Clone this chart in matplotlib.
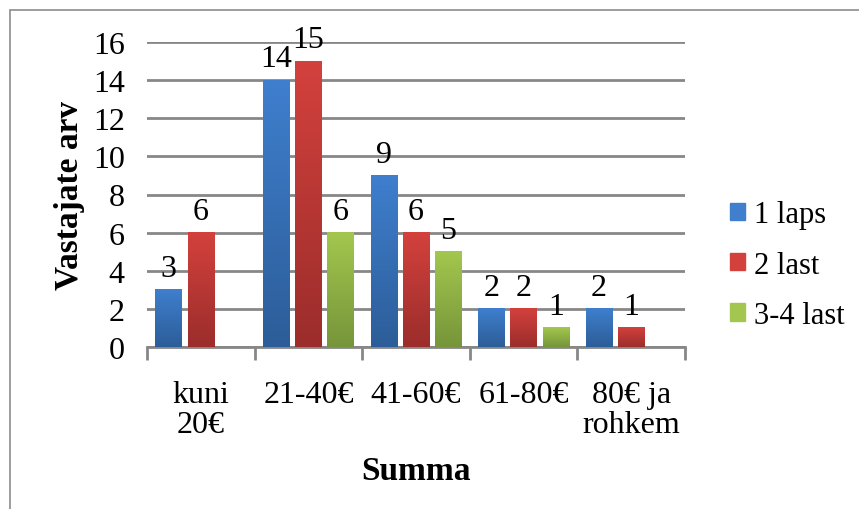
import numpy as np
import matplotlib.pyplot as plt
from matplotlib.patches import Rectangle
from matplotlib.colors import LinearSegmentedColormap

categories = ["kuni\n20€", "21-40€", "41-60€", "61-80€", "80€ ja\nrohkem"]
series = ["1 laps", "2 last", "3-4 last"]
laps1 = [3, 14, 9, 2, 2]
last2 = [6, 15, 6, 2, 1]
last34 = [0, 6, 5, 1, 0]
values = [laps1, last2, last34]

# top colour, bottom colour (Excel-style vertical gradient)
grads = [("#3f7fce", "#2c5d98"), ("#d3413d", "#9b2d2b"), ("#a3c74e", "#76953a")]

plt.rcParams['font.family'] = ['Liberation Serif', 'DejaVu Serif']
FS = 23

fig = plt.figure(figsize=(8.59, 5.10), dpi=100)
# outer chart border (only left/top visible in the picture)
fig.patches.append(Rectangle((10 / 859, -0.1), 1.2, 1.1 - 11 / 510,
                             transform=fig.transFigure, fill=False,
                             edgecolor="#8c8c8c", lw=1.2))

ax = fig.add_axes([147 / 859, (510 - 348) / 510, 538 / 859, 305 / 510])

x = np.arange(len(categories))
step = 0.30
width = 0.245
ymax = 16

for i, (name, vals) in enumerate(zip(series, values)):
    cmap = LinearSegmentedColormap.from_list(name, [grads[i][1], grads[i][0]])
    xs = x + (i - 1) * step
    bars = ax.bar(xs, vals, width, color=grads[i][0], label=name, zorder=2)
    for b, v in zip(bars, vals):
        if v == 0:
            continue
        x0 = b.get_x()
        grad = np.linspace(0, 1, 256).reshape(-1, 1)
        ax.imshow(grad, cmap=cmap, origin="lower", aspect="auto",
                  extent=[x0, x0 + width, 0, v], zorder=3)
        ax.text(x0 + width / 2, v + 0.35, str(v), ha="center", va="bottom",
                fontsize=FS)

ax.set_xlim(-0.5, len(categories) - 0.5)
ax.set_ylim(0, ymax)
ax.set_yticks(range(0, 17, 2))
ax.yaxis.grid(True, color="#878787", lw=2)
ax.set_axisbelow(True)
ax.tick_params(axis="y", length=0, labelsize=FS, pad=16)

ax.set_xticks(np.arange(-0.5, len(categories), 1))
ax.set_xticklabels([])
ax.set_xticks(x, minor=True)
ax.set_xticklabels(categories, minor=True, fontsize=FS, linespacing=1.05)
ax.tick_params(axis="x", which="major", length=9, width=2, color="#878787",
               direction="out")
ax.tick_params(axis="x", which="minor", length=0, pad=24)

for s in ["left", "right", "top"]:
    ax.spines[s].set_visible(False)
ax.spines["bottom"].set_color("#878787")
ax.spines["bottom"].set_linewidth(2)

ax.set_ylabel("Vastajate arv", fontsize=FS + 1, fontweight="bold", labelpad=6)
ax.set_xlabel("Summa", fontsize=FS + 1, fontweight="bold", labelpad=11)

handles = [Rectangle((0, 0), 1, 1, color=grads[i][0]) for i in range(3)]
fig.legend(handles, series, loc="center left", bbox_to_anchor=(702 / 859, (510 - 266) / 510),
           frameon=False, fontsize=22, handlelength=0.5, handleheight=0.5,
           handletextpad=0.3, labelspacing=0.7)

plt.savefig("out.png", dpi=100)
